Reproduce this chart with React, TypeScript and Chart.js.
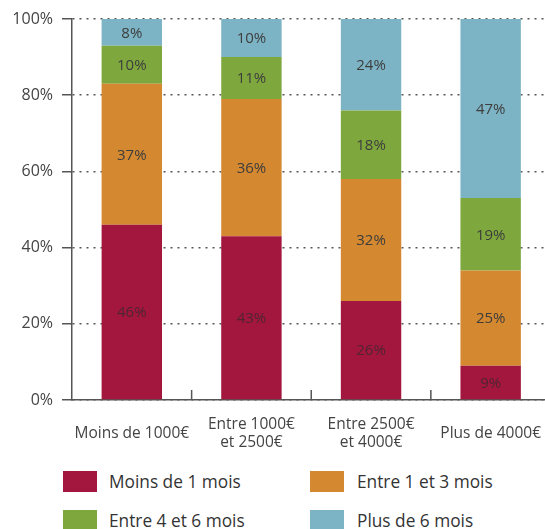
import React, { useEffect, useRef } from "react";
import { Chart, registerables } from "chart.js";

Chart.register(...registerables);

const categories: (string | string[])[] = [
  "Moins de 1000€",
  ["Entre 1000€", "et 2500€"],
  ["Entre 2500€", "et 4000€"],
  "Plus de 4000€",
];
const seriesNames = ["Moins de 1 mois", "Entre 1 et 3 mois", "Entre 4 et 6 mois", "Plus de 6 mois"];
const lessThan1Month = [46, 43, 26, 9];
const from1To3Months = [37, 36, 32, 25];
const from4To6Months = [10, 11, 18, 19];
const moreThan6Months = [8, 10, 24, 47];
const yTicks = [0, 20, 40, 60, 80, 100];
const seriesColors = ["#A3173F", "#D4882F", "#7EA83D", "#7DB4C5"];

const FONT = '"Open Sans", "Noto Sans", sans-serif';
const AXIS = "#555555";

const segmentLabels = {
  id: "segmentLabels",
  afterDatasetsDraw(chart: any) {
    const ctx = chart.ctx;
    const area = chart.chartArea;
    ctx.save();
    ctx.font = `15px ${FONT}`;
    ctx.textAlign = "center";
    ctx.textBaseline = "middle";
    chart.data.datasets.forEach((ds: any, di: number) => {
      const meta = chart.getDatasetMeta(di);
      meta.data.forEach((el: any, i: number) => {
        const top = Math.max(el.y, area.top);
        const y = (top + el.base) / 2;
        ctx.fillStyle = di === 0 ? "rgba(60,40,45,0.8)" : "#3d3d3d";
        ctx.fillText(ds.data[i] + "%", el.x, y + 1);
      });
    });
    ctx.restore();
  },
};

const innerXTicks = {
  id: "innerXTicks",
  afterDatasetsDraw(chart: any) {
    const ctx = chart.ctx;
    const xs = chart.scales.x;
    const bottom = chart.chartArea.bottom;
    ctx.save();
    ctx.strokeStyle = AXIS;
    ctx.lineWidth = 1.5;
    for (let i = 1; i < categories.length; i++) {
      const x = (xs.getPixelForValue(i - 1) + xs.getPixelForValue(i)) / 2;
      ctx.beginPath();
      ctx.moveTo(x, bottom);
      ctx.lineTo(x, bottom - 10);
      ctx.stroke();
    }
    ctx.restore();
  },
};

export default function App() {
  const canvasRef = useRef<HTMLCanvasElement | null>(null);

  useEffect(() => {
    if (!canvasRef.current) return;
    const seriesData = [lessThan1Month, from1To3Months, from4To6Months, moreThan6Months];
    const chart = new Chart(canvasRef.current, {
      type: "bar",
      data: {
        labels: categories,
        datasets: seriesData.map((d, i) => ({
          label: seriesNames[i],
          data: d,
          backgroundColor: seriesColors[i],
          borderWidth: 0,
          categoryPercentage: 1,
          barPercentage: 0.505,
        })),
      },
      options: {
        animation: false,
        responsive: true,
        maintainAspectRatio: false,
        layout: { padding: { top: 19, left: 0, right: 0, bottom: 0 } },
        plugins: { legend: { display: false }, tooltip: { enabled: false } },
        scales: {
          x: {
            stacked: true,
            afterFit: (s: any) => {
              s.height = 66;
            },
            grid: {
              display: true,
              drawOnChartArea: false,
              drawTicks: true,
              tickLength: 12,
              tickColor: "rgba(0,0,0,0)",
            },
            border: { display: true, color: AXIS, width: 1.5 },
            ticks: {
              color: "#444",
              font: { family: FONT, size: 15.5, lineHeight: 1.16 },
              padding: 13,
              crossAlign: "center",
              maxRotation: 0,
              autoSkip: false,
            },
          },
          y: {
            stacked: true,
            min: 0,
            max: 100,
            afterFit: (s: any) => {
              s.width = 72;
            },
            afterBuildTicks: (s: any) => {
              s.ticks = yTicks.map((v) => ({ value: v }));
            },
            grid: {
              color: AXIS,
              lineWidth: 1.5,
              drawTicks: true,
              tickLength: 10,
              tickColor: AXIS,
              tickWidth: 1.5,
            },
            border: { display: true, color: AXIS, width: 1.5, dash: [2, 5] },
            ticks: {
              color: "#444",
              font: { family: FONT, size: 16 },
              padding: 9,
              callback: (v: any) => v + "%",
            },
          },
        },
      },
      plugins: [segmentLabels, innerXTicks],
    });
    return () => chart.destroy();
  }, []);

  const legendItems = [
    { left: 63, top: 471, textLeft: 109 },
    { left: 310, top: 471, textLeft: 357 },
    { left: 63, top: 510, textLeft: 109 },
    { left: 310, top: 510, textLeft: 357 },
  ];

  return (
    <div
      style={{
        position: "fixed",
        left: 0,
        top: 0,
        width: 545,
        height: 529,
        overflow: "hidden",
        background: "#fff",
        fontFamily: FONT,
      }}
    >
      <div style={{ position: "absolute", left: 0, top: 0, width: 554, height: 466 }}>
        <canvas ref={canvasRef} />
      </div>
      {legendItems.map((p, i) => (
        <React.Fragment key={i}>
          <div
            style={{
              position: "absolute",
              left: p.left,
              top: p.top,
              width: 34,
              height: 21,
              background: seriesColors[i],
            }}
          />
          <div
            style={{
              position: "absolute",
              left: p.textLeft,
              top: p.top - 2,
              height: 25,
              lineHeight: "25px",
              fontSize: 17.3,
              color: "#333",
              whiteSpace: "nowrap",
            }}
          >
            {seriesNames[i]}
          </div>
        </React.Fragment>
      ))}
    </div>
  );
}
